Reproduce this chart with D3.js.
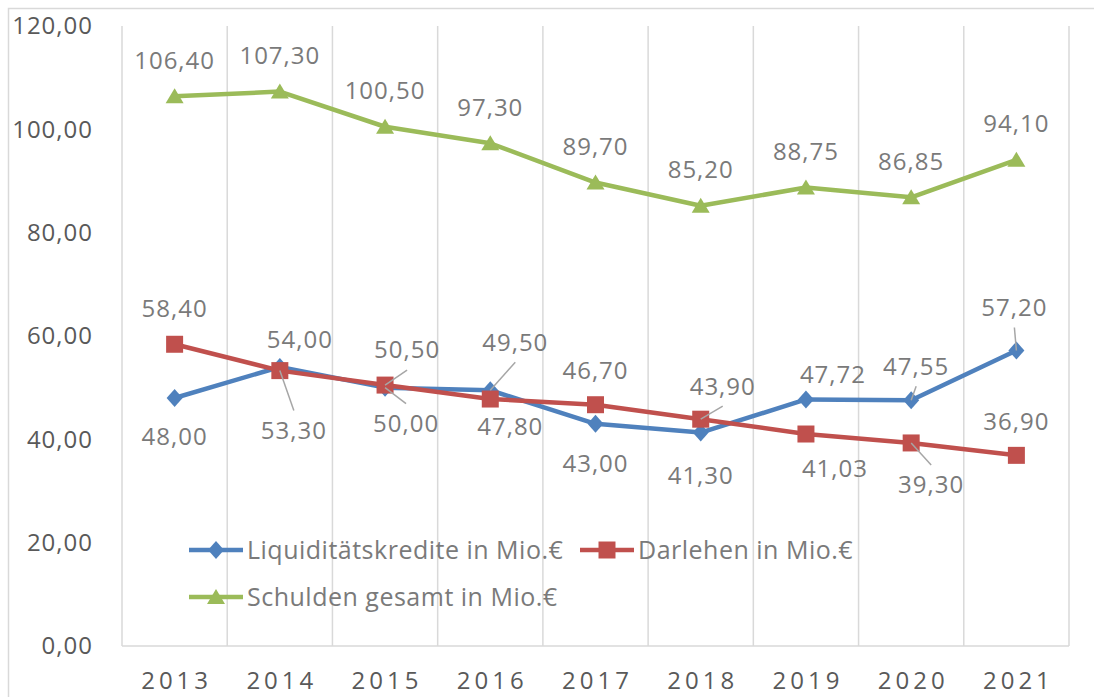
<!DOCTYPE html>
<html>
<head>
<meta charset="utf-8">
<script src="https://cdn.jsdelivr.net/npm/d3@7"></script>
<style>
  body { margin: 0; background: #fff; }
  svg { display: block; font-family: "Open Sans", sans-serif; }
</style>
</head>
<body>
<svg id="chart" width="1094" height="697"></svg>
<script>
// Liquiditätskredite, Darlehen und Schulden gesamt 2013-2021 (Mio. €)

const years = ["2013", "2014", "2015", "2016", "2017", "2018", "2019", "2020", "2021"];
const liquiditaet = [48.0, 54.0, 50.0, 49.5, 43.0, 41.3, 47.72, 47.55, 57.2];
const darlehen = [58.4, 53.3, 50.5, 47.8, 46.7, 43.9, 41.03, 39.3, 36.9];
const schulden = [106.4, 107.3, 100.5, 97.3, 89.7, 85.2, 88.75, 86.85, 94.1];
const yTicks = [0, 20, 40, 60, 80, 100, 120];

// label placement relative to the point: [dx, dy, leader line?]
const liqLabelPos = [[0, 39], [20, -27], [21, 36, 1], [25, -48, 1], [0, 40], [0, 43], [27, -25], [5, -34, 1], [-2, -43, 1]];
const darLabelPos = [[0, -36], [14, 60, 1], [22, -35, 1], [20, 28], [0, -34], [22, -33, 1], [29, 35], [20, 42, 1], [0, -34]];
const schLabelPos = years.map(() => [0, -36]);

const width = 1094;
const height = 697;

const series = [
  { name: "Liquiditätskredite in Mio.€", values: liquiditaet, color: "#4F81BD", marker: "diamond", labels: liqLabelPos },
  { name: "Darlehen in Mio.€", values: darlehen, color: "#C0504D", marker: "square", labels: darLabelPos },
  { name: "Schulden gesamt in Mio.€", values: schulden, color: "#9BBB59", marker: "triangle", labels: schLabelPos },
];

const fmt = (v) => d3.format(".2f")(v).replace(".", ",");

const svg = d3.select("#chart");

// outer chart frame
svg.append("rect")
  .attr("x", 8.5).attr("y", 8.5)
  .attr("width", width + 20).attr("height", height + 20)
  .attr("fill", "none").attr("stroke", "#d9d9d9").attr("stroke-width", 1.5);

const x = d3.scaleBand().domain(years).range([122, 1069]);
const y = d3.scaleLinear().domain([0, 120]).range([646, 26]);
const cx = (d) => x(d) + x.bandwidth() / 2;

// vertical gridlines at category borders
const gridX = years.map((d) => x(d)).concat([x.range()[1]]);
svg.append("g")
  .selectAll("line")
  .data(gridX)
  .enter()
  .append("line")
  .attr("x1", (d) => d).attr("x2", (d) => d)
  .attr("y1", y(120)).attr("y2", y(0))
  .attr("stroke", "#d9d9d9").attr("stroke-width", 1.5);

// x axis line
svg.append("line")
  .attr("x1", 122).attr("x2", 1069)
  .attr("y1", y(0)).attr("y2", y(0))
  .attr("stroke", "#d9d9d9").attr("stroke-width", 1.5);

// y tick labels
svg.append("g")
  .selectAll("text")
  .data(yTicks)
  .enter()
  .append("text")
  .attr("x", 93)
  .attr("y", (d) => y(d))
  .attr("dy", "0.35em")
  .attr("text-anchor", "end")
  .attr("font-size", 24)
  .attr("letter-spacing", 1)
  .attr("fill", "#595959")
  .text(fmt);

// x labels
svg.append("g")
  .selectAll("text")
  .data(years)
  .enter()
  .append("text")
  .attr("x", (d) => cx(d) + 2)
  .attr("y", 681)
  .attr("dy", "0.35em")
  .attr("text-anchor", "middle")
  .attr("font-size", 24)
  .attr("letter-spacing", 4)
  .attr("fill", "#595959")
  .text((d) => d);

const markerPath = (type) => {
  if (type === "diamond") return "M0,-9L8,0L0,9L-8,0Z";
  if (type === "square") return "M-8.5,-8.5H8.5V8.5H-8.5Z";
  return "M0,-8L9,7H-9Z";
};

series.forEach((s) => {
  const pts = years.map((yr, i) => ({ yr: yr, v: s.values[i], pos: s.labels[i] }));
  const line = d3.line().x((d) => cx(d.yr)).y((d) => y(d.v));

  svg.append("path")
    .datum(pts)
    .attr("d", line)
    .attr("fill", "none")
    .attr("stroke", s.color)
    .attr("stroke-width", 4.5)
    .attr("stroke-linejoin", "round");

  svg.append("g")
    .selectAll("path")
    .data(pts)
    .enter()
    .append("path")
    .attr("transform", (d) => `translate(${cx(d.yr)},${y(d.v)})`)
    .attr("d", markerPath(s.marker))
    .attr("fill", s.color);
});

// data labels drawn on top
series.forEach((s) => {
  const pts = years.map((yr, i) => ({ yr: yr, v: s.values[i], pos: s.labels[i] }));

  // leader lines go from the point to the near edge of the label
  svg.append("g")
    .selectAll("line")
    .data(pts.filter((d) => d.pos[2]))
    .enter()
    .append("line")
    .attr("x1", (d) => cx(d.yr))
    .attr("y1", (d) => y(d.v))
    .attr("x2", (d) => cx(d.yr) + d.pos[0])
    .attr("y2", (d) => y(d.v) + d.pos[1] - Math.sign(d.pos[1]) * 20)
    .attr("stroke", "#a6a6a6")
    .attr("stroke-width", 1.5);

  svg.append("g")
    .selectAll("text")
    .data(pts)
    .enter()
    .append("text")
    .attr("x", (d) => cx(d.yr) + d.pos[0])
    .attr("y", (d) => y(d.v) + d.pos[1])
    .attr("dy", "0.35em")
    .attr("text-anchor", "middle")
    .attr("font-size", 24)
    .attr("letter-spacing", 1)
    .attr("fill", "#7a7a7a")
    .text((d) => fmt(d.v));
});

// legend
const legendItems = [
  { s: series[0], x: 189, y: 550 },
  { s: series[1], x: 580, y: 550 },
  { s: series[2], x: 189, y: 597 },
];
const legend = svg.append("g").attr("id", "legend")
  .selectAll("g")
  .data(legendItems)
  .enter()
  .append("g")
  .attr("transform", (d) => `translate(${d.x},${d.y})`);

legend.append("line")
  .attr("x1", 0).attr("x2", 54)
  .attr("stroke", (d) => d.s.color)
  .attr("stroke-width", 4.5);

legend.append("path")
  .attr("transform", "translate(27,0)")
  .attr("d", (d) => markerPath(d.s.marker))
  .attr("fill", (d) => d.s.color);

legend.append("text")
  .attr("x", 58)
  .attr("dy", "0.35em")
  .attr("font-size", 25)
  .attr("letter-spacing", 0.5)
  .attr("fill", "#7a7a7a")
  .text((d) => d.s.name);
</script>
</body>
</html>
